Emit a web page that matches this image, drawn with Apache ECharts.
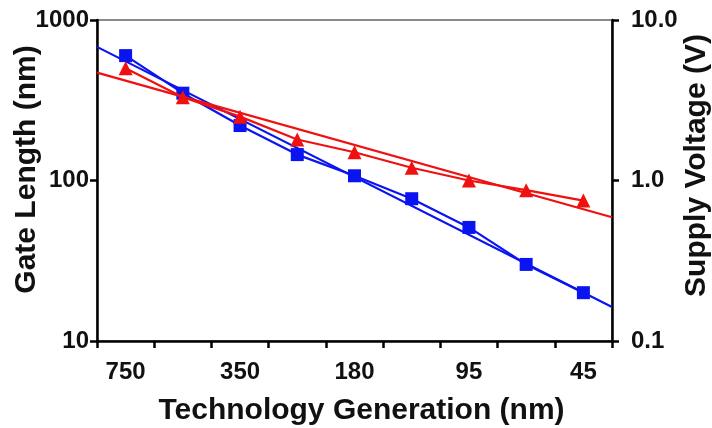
<!DOCTYPE html>
<html>
<head>
<meta charset="utf-8">
<script src="https://cdn.jsdelivr.net/npm/echarts@6/dist/echarts.min.js"></script>
<style>
  html, body { margin: 0; padding: 0; background: #ffffff; }
  #chart { width: 712px; height: 428px; }
</style>
</head>
<body>
<div id="chart"></div>
<script>
// Technology node (nm), one band per generation
const generations = ['750', '500', '350', '250', '180', '130', '95', '65', '45'];
// Physical gate length (nm), left axis
const gateLength = [600, 350, 220, 145, 107, 77, 51, 30, 20];
// Supply voltage (V), right axis
const supplyVoltage = [5.0, 3.3, 2.5, 1.8, 1.5, 1.2, 1.0, 0.87, 0.75];
// Exponential trend lines: values at the left and right edges of the plot
const gateTrend = [680, 16.3];
const voltageTrend = [4.7, 0.59];

const BLUE = '#0a14f0';
const RED = '#f01010';
const FONT = '"Liberation Sans", Arial, sans-serif';

// Marks sit at band centres on a hidden 0..N value axis
const n = generations.length;
const toPts = arr => arr.map((v, i) => [i + 0.5, v]);
const edgePts = arr => [[0, arr[0]], [n, arr[1]]];

const chart = echarts.init(document.getElementById('chart'), null, { renderer: 'canvas' });

chart.setOption({
  animation: false,
  backgroundColor: '#ffffff',
  grid: {
    left: 97, right: 100, top: 20, bottom: 87,
    containLabel: false,
    outerBoundsMode: 'none',
    show: true, borderColor: '#8a8a8a', borderWidth: 2, backgroundColor: 'transparent'
  },
  xAxis: [
    {
      type: 'category',
      data: generations,
      boundaryGap: true,
      name: 'Technology Generation (nm)',
      nameLocation: 'middle',
      nameGap: 55,
      nameMoveOverlap: false,
      nameTextStyle: { fontFamily: FONT, fontWeight: 'bold', fontSize: 30, color: '#111', padding: [0, 0, 0, 14] },
      axisLine: { lineStyle: { color: '#000', width: 2.5 } },
      axisTick: { show: true, interval: 0, length: 7, lineStyle: { color: '#000', width: 2.5 } },
      axisLabel: { interval: 1, margin: 19, fontFamily: FONT, fontWeight: 'bold', fontSize: 24, color: '#111' },
      splitLine: { show: false }
    },
    {
      type: 'value',
      min: 0, max: n,
      show: false
    }
  ],
  yAxis: [
    {
      type: 'log',
      logBase: 10,
      min: 10, max: 1000,
      position: 'left',
      name: 'Gate Length (nm)',
      nameLocation: 'middle',
      nameRotate: 90,
      nameGap: 55,
      nameMoveOverlap: false,
      nameTextStyle: { fontFamily: FONT, fontWeight: 'bold', fontSize: 30, color: '#111', padding: [0, 0, 0, 22] },
      axisLine: { show: true, lineStyle: { color: '#000', width: 2.5 } },
      axisTick: { show: true, length: 7, lineStyle: { color: '#000', width: 2.5 } },
      minorTick: { show: false },
      axisLabel: { margin: 8, fontFamily: FONT, fontWeight: 'bold', fontSize: 24, color: '#111',
        formatter: v => String(Math.round(v)) },
      splitLine: { show: false }
    },
    {
      type: 'log',
      logBase: 10,
      min: 0.1, max: 10,
      position: 'right',
      name: 'Supply Voltage (V)',
      nameLocation: 'middle',
      nameRotate: 90,
      nameGap: 70,
      nameMoveOverlap: false,
      nameTextStyle: { fontFamily: FONT, fontWeight: 'bold', fontSize: 30, color: '#111', padding: [0, 0, 0, 30] },
      axisLine: { show: true, lineStyle: { color: '#000', width: 2.5 } },
      axisTick: { show: true, length: 7, lineStyle: { color: '#000', width: 2.5 } },
      minorTick: { show: false },
      axisLabel: { margin: 19, fontFamily: FONT, fontWeight: 'bold', fontSize: 24, color: '#111',
        formatter: v => Number(v).toFixed(1) },
      splitLine: { show: false }
    }
  ],
  series: [
    {
      name: 'Gate length trend',
      type: 'line',
      xAxisIndex: 1, yAxisIndex: 0,
      data: edgePts(gateTrend),
      showSymbol: false,
      lineStyle: { color: BLUE, width: 2.2 },
      z: 2
    },
    {
      name: 'Gate length',
      type: 'line',
      xAxisIndex: 1, yAxisIndex: 0,
      data: toPts(gateLength),
      symbol: 'rect',
      symbolSize: 13,
      itemStyle: { color: BLUE },
      lineStyle: { color: BLUE, width: 2.2 },
      z: 3
    },
    {
      name: 'Supply voltage trend',
      type: 'line',
      xAxisIndex: 1, yAxisIndex: 1,
      data: edgePts(voltageTrend),
      showSymbol: false,
      lineStyle: { color: RED, width: 2.2 },
      z: 4
    },
    {
      name: 'Supply voltage',
      type: 'line',
      xAxisIndex: 1, yAxisIndex: 1,
      data: toPts(supplyVoltage),
      symbol: 'triangle',
      symbolSize: 14,
      itemStyle: { color: RED },
      lineStyle: { color: RED, width: 2.2 },
      z: 5
    }
  ]
});
</script>
</body>
</html>
